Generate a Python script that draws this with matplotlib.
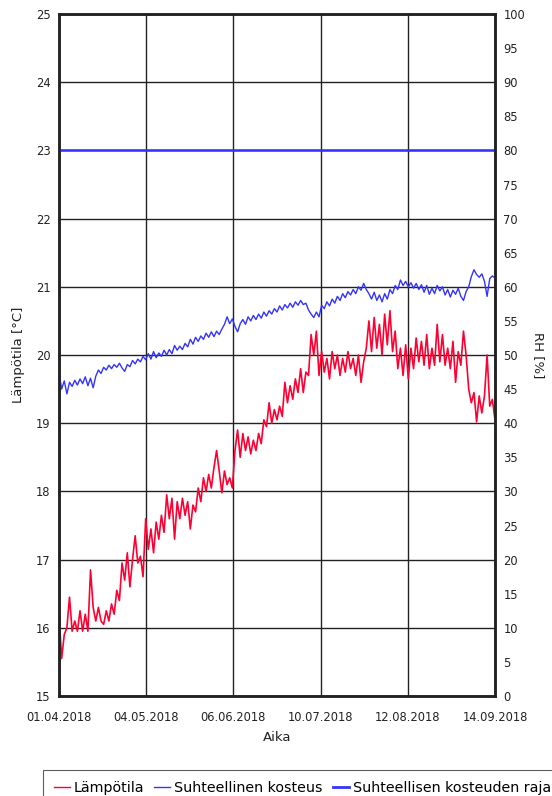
import numpy as np
import pandas as pd
import matplotlib
matplotlib.use('Agg')
import matplotlib.pyplot as plt
import matplotlib.dates as mdates
from matplotlib.lines import Line2D

plt.rcParams['font.family'] = ['DejaVu Sans']

# daily readings 01.04.2018 - 14.09.2018
paivat = pd.date_range('2018-04-01', '2018-09-14', freq='D')

lampotila = [
    16.2, 15.55, 15.9, 16.0, 16.45, 15.95, 16.1, 15.95, 16.25, 15.95,
    16.2, 15.95, 16.85, 16.3, 16.1, 16.3, 16.1, 16.05, 16.25, 16.1,
    16.35, 16.2, 16.55, 16.4, 16.95, 16.7, 17.1, 16.6, 17.0, 17.35,
    16.95, 17.05, 16.75, 17.6, 17.15, 17.45, 17.1, 17.55, 17.3, 17.65,
    17.4, 17.95, 17.6, 17.9, 17.3, 17.85, 17.6, 17.9, 17.65, 17.85,
    17.45, 17.8, 17.7, 18.05, 17.85, 18.2, 18.0, 18.25, 18.05, 18.35,
    18.6, 18.3, 17.98, 18.3, 18.1, 18.2, 18.05, 18.6, 18.9, 18.5,
    18.85, 18.6, 18.8, 18.55, 18.75, 18.6, 18.85, 18.7, 19.05, 18.95,
    19.3, 19.0, 19.2, 19.05, 19.25, 19.1, 19.6, 19.3, 19.55, 19.35,
    19.65, 19.45, 19.8, 19.45, 19.75, 19.7, 20.3, 20.0, 20.35, 19.7,
    20.05, 19.75, 19.95, 19.65, 20.05, 19.8, 20.0, 19.7, 19.95, 19.75,
    20.05, 19.8, 19.95, 19.7, 20.0, 19.6, 19.9, 20.1, 20.5, 20.05,
    20.55, 20.1, 20.45, 20.0, 20.6, 20.15, 20.65, 20.05, 20.35, 19.8,
    20.1, 19.7, 20.15, 19.65, 20.1, 19.8, 20.25, 19.9, 20.2, 19.85,
    20.3, 19.8, 20.1, 19.85, 20.45, 19.9, 20.3, 19.85, 20.1, 19.8,
    20.2, 19.6, 20.05, 19.85, 20.35, 20.0, 19.5, 19.3, 19.45, 19.02,
    19.4, 19.15, 19.4, 20.0, 19.25, 19.35, 19.05,
]

kosteus = [
    47.5, 45.0, 46.2, 44.3, 46.0, 45.4, 46.3, 45.6, 46.5, 45.8,
    46.8, 45.5, 46.6, 45.2, 46.9, 47.8, 47.3, 48.2, 47.8, 48.5,
    48.0, 48.6, 48.2, 48.8, 48.1, 47.6, 48.6, 48.3, 49.2, 48.7,
    49.4, 49.0, 49.8, 49.3, 50.2, 49.4, 50.5, 49.6, 50.3, 49.8,
    50.7, 50.0, 50.8, 50.2, 51.4, 50.7, 51.3, 50.8, 51.7, 51.2,
    52.3, 51.6, 52.6, 52.0, 52.8, 52.3, 53.2, 52.6, 53.4, 52.7,
    53.5, 53.0, 53.8, 54.5, 55.6, 54.6, 55.3, 54.2, 53.4, 54.6,
    55.2, 54.5, 55.6, 55.0, 55.8, 55.2, 56.0, 55.4, 56.3, 55.7,
    56.5, 56.0, 56.8, 56.3, 57.2, 56.6, 57.4, 56.9, 57.6, 57.0,
    57.8, 57.3, 58.0, 57.4, 57.6, 56.6, 56.0, 55.5, 56.3, 55.6,
    57.3, 56.8, 57.8, 57.2, 58.2, 57.6, 58.6, 58.0, 59.0, 58.4,
    59.3, 58.8, 59.6, 59.0, 60.0, 59.5, 60.5, 59.6, 59.0, 58.2,
    59.2, 58.0, 58.8, 57.8, 59.0, 58.2, 59.6, 59.0, 60.2, 59.6,
    61.0, 60.2, 60.8, 60.0, 60.6, 59.8, 60.5, 59.6, 60.3, 59.2,
    60.2, 58.9, 59.8, 59.0, 60.2, 59.4, 60.0, 58.8, 59.6, 58.5,
    59.5, 58.9, 59.8, 58.6, 58.0, 59.3, 60.0, 61.5, 62.5, 61.8,
    61.4, 61.9, 60.8, 58.6, 61.2, 61.6, 61.3,
]

kosteus_raja = 80
aika_labels = ['01.04.2018', '04.05.2018', '06.06.2018', '10.07.2018', '12.08.2018', '14.09.2018']

punainen = '#ff0033'
sininen = '#3333ff'
tumma = '#222222'

fig = plt.figure(figsize=(5.52, 7.96), dpi=100)
ax = fig.add_axes([0.1069, 0.1256, 0.7898, 0.8568])
ax2 = ax.twinx()

ax.plot(paivat, lampotila, color=punainen, lw=1.2)
ax2.plot(paivat, kosteus, color=sininen, lw=1.0)
ax2.axhline(kosteus_raja, color=sininen, lw=1.8)

ax.set_xlim(paivat[0], paivat[-1])
ax.set_ylim(15, 25)
ax2.set_ylim(0, 100)
ax.set_yticks(range(15, 26))
ax2.set_yticks(range(0, 101, 5))

# six evenly spaced time labels across the range
xt = np.linspace(mdates.date2num(paivat[0]), mdates.date2num(paivat[-1]), 6)
ax.set_xticks(xt)
ax.set_xticklabels(aika_labels)

ax.grid(True, color=tumma, lw=1.0)
ax.set_axisbelow(True)

for a in (ax, ax2):
    a.tick_params(length=0, labelsize=8.3, colors=tumma, pad=6)
    for s in a.spines.values():
        s.set_linewidth(1.8)
        s.set_color(tumma)
ax.tick_params(axis='x', pad=11)

ax.set_xlabel('Aika', fontsize=9.5, color=tumma, labelpad=5)
ax.set_ylabel('Lämpötila [°C]', fontsize=9.5, color=tumma, labelpad=8)
ax2.set_ylabel('RH [%]', fontsize=9.5, color=tumma, rotation=-90, labelpad=14)

handles = [
    Line2D([], [], color=punainen, lw=1.0),
    Line2D([], [], color=sininen, lw=1.0),
    Line2D([], [], color=sininen, lw=2.0),
]
names = ['Lämpötila', 'Suhteellinen kosteus', 'Suhteellisen kosteuden raja']
leg = fig.legend(handles, names, loc='upper left', bbox_to_anchor=(0.078, 0.0327),
                 ncol=3, fontsize=10.3, frameon=True, fancybox=False,
                 handlelength=1.1, handletextpad=0.3, columnspacing=0.7,
                 borderpad=0.75, borderaxespad=0)
leg.get_frame().set_edgecolor('#333333')
leg.get_frame().set_linewidth(0.8)

fig.savefig('out.png', dpi=100)
